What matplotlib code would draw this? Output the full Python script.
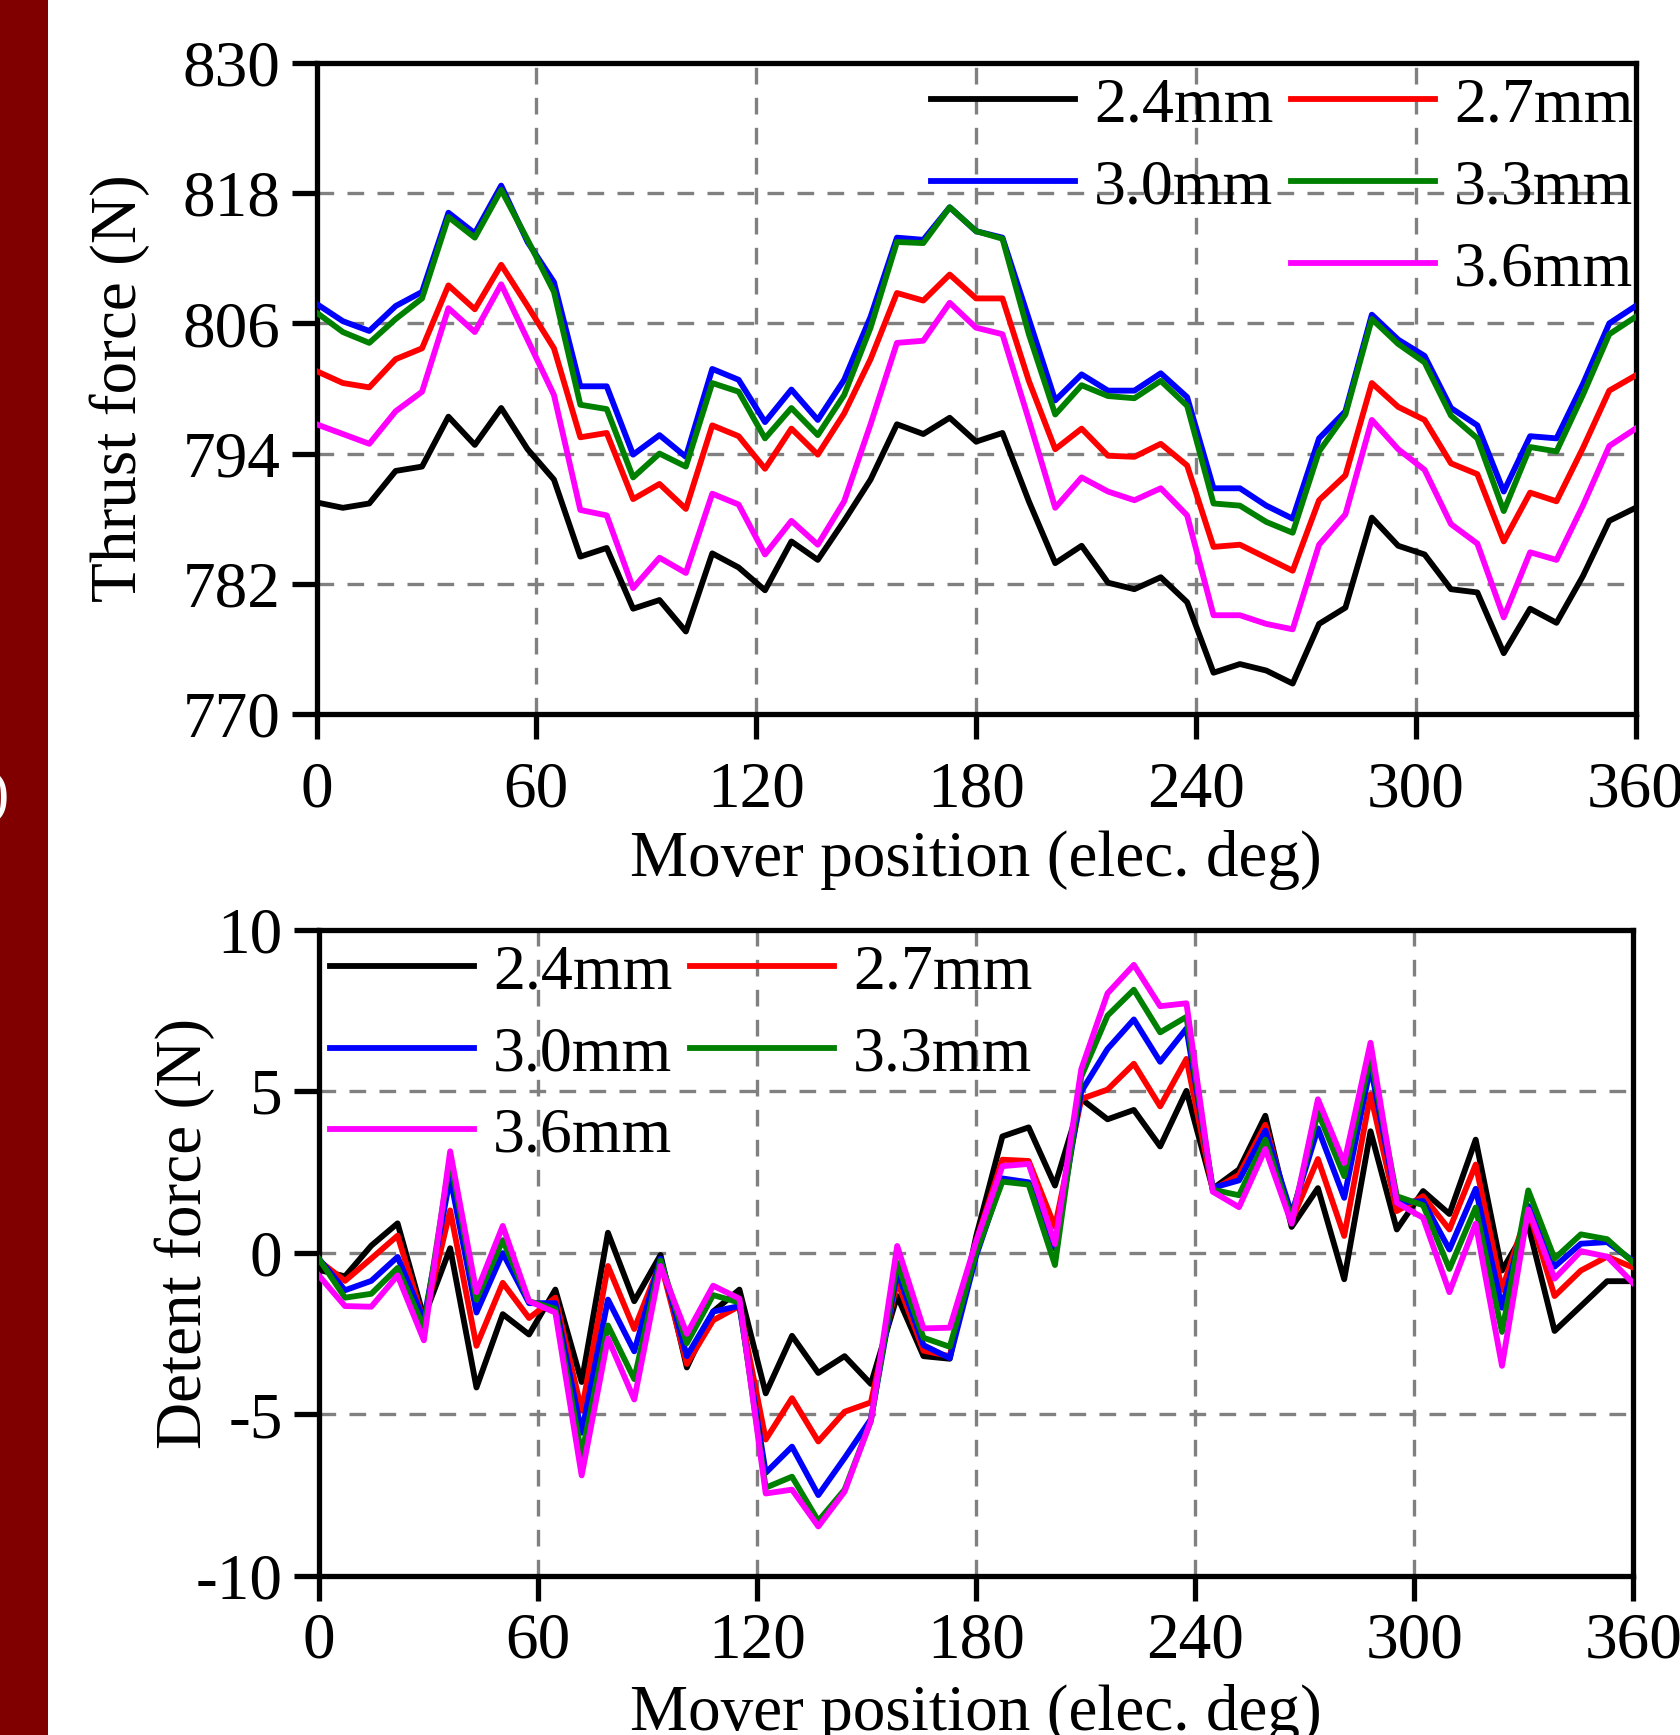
import matplotlib.pyplot as plt
import numpy as np
from matplotlib.lines import Line2D
from matplotlib.patches import Rectangle

plt.rcParams['font.family'] = ['Liberation Serif', 'DejaVu Serif']
plt.rcParams['axes.unicode_minus'] = False

# mover position grid (elec. deg), one sample every 7.2 deg
position = np.linspace(0, 360, 51)

labels = ['2.4mm', '2.7mm', '3.0mm', '3.3mm', '3.6mm']
colors = ['black', 'red', 'blue', 'green', 'magenta']

# thrust force (N)
thrust_24 = [789.5, 789.0, 789.4, 792.4, 792.8, 797.4, 794.8, 798.2, 794.4, 791.6,
             784.5, 785.3, 779.7, 780.5, 777.6, 784.8, 783.5, 781.4, 785.9, 784.2,
             787.8, 791.6, 796.7, 795.8, 797.3, 795.1, 795.9, 789.6, 783.9, 785.5,
             782.1, 781.5, 782.6, 780.3, 773.8, 774.6, 774.0, 772.8, 778.3, 779.8,
             788.1, 785.5, 784.7, 781.5, 781.2, 775.6, 779.7, 778.4, 782.7, 787.8, 789.0]
thrust_27 = [801.6, 800.5, 800.1, 802.7, 803.7, 809.5, 807.3, 811.4, 807.6, 803.7,
             795.5, 795.9, 789.8, 791.2, 788.9, 796.6, 795.6, 792.6, 796.3, 793.9,
             797.7, 802.7, 808.8, 808.1, 810.5, 808.3, 808.3, 800.7, 794.4, 796.3,
             793.8, 793.7, 794.9, 792.9, 785.4, 785.6, 784.4, 783.2, 789.7, 792.0,
             800.5, 798.3, 797.1, 793.1, 792.1, 785.9, 790.4, 789.6, 794.5, 799.8, 801.2]
thrust_30 = [807.8, 806.2, 805.3, 807.6, 808.9, 816.2, 814.3, 818.7, 813.5, 809.8,
             800.2, 800.2, 793.9, 795.7, 793.7, 801.8, 800.8, 796.9, 799.9, 797.1,
             800.8, 806.6, 813.9, 813.7, 816.7, 814.5, 813.9, 806.4, 798.9, 801.3,
             799.8, 799.8, 801.4, 799.2, 790.8, 790.8, 789.2, 788.0, 795.4, 797.9,
             806.8, 804.5, 803.0, 798.2, 796.6, 790.5, 795.6, 795.4, 800.4, 806.0, 807.6]
thrust_33 = [807.0, 805.2, 804.2, 806.4, 808.3, 815.8, 813.9, 818.3, 813.7, 808.9,
             798.5, 798.1, 791.8, 794.0, 792.8, 800.5, 799.7, 795.4, 798.2, 795.7,
             799.4, 805.6, 813.5, 813.4, 816.7, 814.5, 813.8, 805.0, 797.6, 800.3,
             799.3, 799.1, 800.7, 798.4, 789.4, 789.2, 787.7, 786.7, 794.2, 797.6,
             806.4, 804.1, 802.4, 797.5, 795.4, 788.7, 794.6, 794.2, 799.4, 805.0, 806.6]
thrust_36 = [796.7, 795.8, 794.9, 797.9, 799.7, 807.4, 805.2, 809.6, 804.5, 799.4,
             788.8, 788.3, 781.6, 784.4, 783.0, 790.3, 789.3, 784.7, 787.8, 785.6,
             789.6, 796.7, 804.2, 804.4, 807.9, 805.6, 805.0, 797.1, 789.0, 791.8,
             790.5, 789.7, 790.8, 788.3, 779.1, 779.1, 778.3, 777.8, 785.6, 788.4,
             797.1, 794.4, 792.5, 787.5, 785.7, 778.9, 784.9, 784.2, 789.2, 794.7, 796.3]

# detent force (N)
detent_24 = [-0.53, -0.73, 0.22, 0.91, -2.0, 0.14, -4.17, -1.9, -2.53, -1.14,
             -4.0, 0.62, -1.5, -0.07, -3.55, -1.82, -1.14, -4.35, -2.57, -3.72,
             -3.2, -4.06, -1.34, -3.2, -3.28, 0.5, 3.6, 3.88, 2.08, 4.76,
             4.13, 4.42, 3.29, 5.01, 1.98, 2.58, 4.24, 0.8, 2.0, -0.82,
             3.76, 0.72, 1.91, 1.2, 3.5, -0.55, 0.85, -2.42, -1.65, -0.88, -0.88]
detent_27 = [-0.24, -0.87, -0.18, 0.53, -2.13, 1.31, -2.88, -0.93, -2.02, -1.39,
             -4.89, -0.41, -2.36, -0.3, -3.44, -2.09, -1.65, -5.78, -4.5, -5.84,
             -4.92, -4.63, -0.88, -3.03, -3.2, 0.35, 2.88, 2.84, 0.8, 4.76,
             5.05, 5.85, 4.53, 6.0, 1.95, 2.41, 3.96, 1.0, 2.9, 0.52,
             4.9, 1.29, 1.75, 0.72, 2.73, -1.15, 1.34, -1.34, -0.55, -0.12, -0.46]
detent_30 = [-0.18, -1.16, -0.87, -0.13, -2.08, 2.34, -1.85, -0.01, -1.56, -1.56,
             -5.57, -1.45, -3.05, -0.18, -3.2, -1.82, -1.65, -6.81, -6.0, -7.5,
             -6.35, -5.15, -0.57, -2.86, -3.26, -0.1, 2.3, 2.18, 0.13, 4.99,
             6.31, 7.22, 5.91, 6.94, 2.01, 2.24, 3.78, 1.2, 3.85, 1.7,
             5.77, 1.55, 1.6, 0.1, 1.98, -1.7, 1.45, -0.43, 0.28, 0.33, -0.26]
detent_33 = [-0.18, -1.39, -1.27, -0.47, -2.31, 2.91, -1.45, 0.39, -1.5, -1.73,
             -6.26, -2.25, -3.91, -0.24, -2.8, -1.31, -1.54, -7.27, -6.93, -8.3,
             -7.33, -5.2, -0.31, -2.63, -2.91, 0.0, 2.2, 2.11, -0.38, 5.45,
             7.34, 8.14, 6.82, 7.3, 1.95, 1.78, 3.5, 1.05, 4.35, 2.37,
             6.08, 1.75, 1.47, -0.5, 1.4, -2.45, 1.93, -0.18, 0.57, 0.42, -0.31]
detent_36 = [-0.7, -1.65, -1.67, -0.7, -2.71, 3.14, -1.22, 0.83, -1.5, -1.85,
             -6.89, -2.65, -4.54, -0.41, -2.51, -1.02, -1.42, -7.45, -7.33, -8.47,
             -7.39, -5.2, 0.21, -2.34, -2.32, 0.35, 2.68, 2.75, 0.27, 5.68,
             8.03, 8.91, 7.63, 7.72, 1.89, 1.41, 3.21, 0.9, 4.75, 2.78,
             6.5, 1.55, 1.08, -1.22, 0.9, -3.5, 1.34, -0.8, 0.05, -0.12, -0.95]

thrust = [thrust_24, thrust_27, thrust_30, thrust_33, thrust_36]
detent = [detent_24, detent_27, detent_30, detent_33, detent_36]

fig = plt.figure(figsize=(16.8, 17.35), dpi=100)
fig.add_artist(Rectangle((0, 0), 48 / 1680, 1, transform=fig.transFigure,
                         facecolor='#800000', edgecolor='none'))
fig.text(8 / 1680, 1 - 797 / 1735, ')', color='white', fontsize=44,
         ha='right', va='center')

ax1 = fig.add_axes([0.1884, 0.5885, 0.7852, 0.3752])
ax2 = fig.add_axes([0.1897, 0.0917, 0.7826, 0.3725])

for ax, series in ((ax1, thrust), (ax2, detent)):
    for vals, c, lab in zip(series, colors, labels):
        ax.plot(position, vals, color=c, lw=4.2, label=lab, zorder=3)
    ax.set_xlim(0, 360)
    ax.set_xticks(np.arange(0, 361, 60))
    ax.grid(True, color='#808080', lw=2.4, linestyle=(0, (5, 4)), zorder=1)
    for sp in ax.spines.values():
        sp.set_linewidth(3.8)
    ax.tick_params(direction='out', length=18, width=3.8, labelsize=47, pad=8)
    ax.set_xlabel('Mover position (elec. deg)', fontsize=47)

ax1.tick_params(axis='x', pad=16)

ax1.set_ylim(770, 830)
ax1.set_yticks(np.arange(770, 831, 12))
ax1.set_ylabel('Thrust force (N)', fontsize=47)
ax1.yaxis.set_label_coords(-0.126, 0.5)
ax1.xaxis.set_label_coords(0.5, -0.179)

ax2.set_ylim(-10, 10)
ax2.set_yticks([-10, -5, 0, 5, 10])
ax2.set_ylabel('Detent force (N)', fontsize=47)
ax2.yaxis.set_label_coords(-0.0792, 0.53)
ax2.xaxis.set_label_coords(0.5, -0.168)

blank = Line2D([], [], color='none')
h1 = ax1.get_lines()
h2 = ax2.get_lines()
leg_kw = dict(ncol=2, frameon=False, fontsize=46, handlelength=2.25,
              handletextpad=0.3, columnspacing=0.28, labelspacing=0.36,
              borderpad=0.0, borderaxespad=0.22)
ax1.legend([h1[0], h1[2], blank, h1[1], h1[3], h1[4]],
           ['2.4mm', '3.0mm', '', '2.7mm', '3.3mm', '3.6mm'],
           loc='upper right', bbox_to_anchor=(1.009, 1), **leg_kw)
ax2.legend([h2[0], h2[2], h2[4], h2[1], h2[3], blank],
           ['2.4mm', '3.0mm', '3.6mm', '2.7mm', '3.3mm', ''],
           loc='upper left', bbox_to_anchor=(-0.002, 1), **leg_kw)

fig.savefig('out.png', dpi=100)
